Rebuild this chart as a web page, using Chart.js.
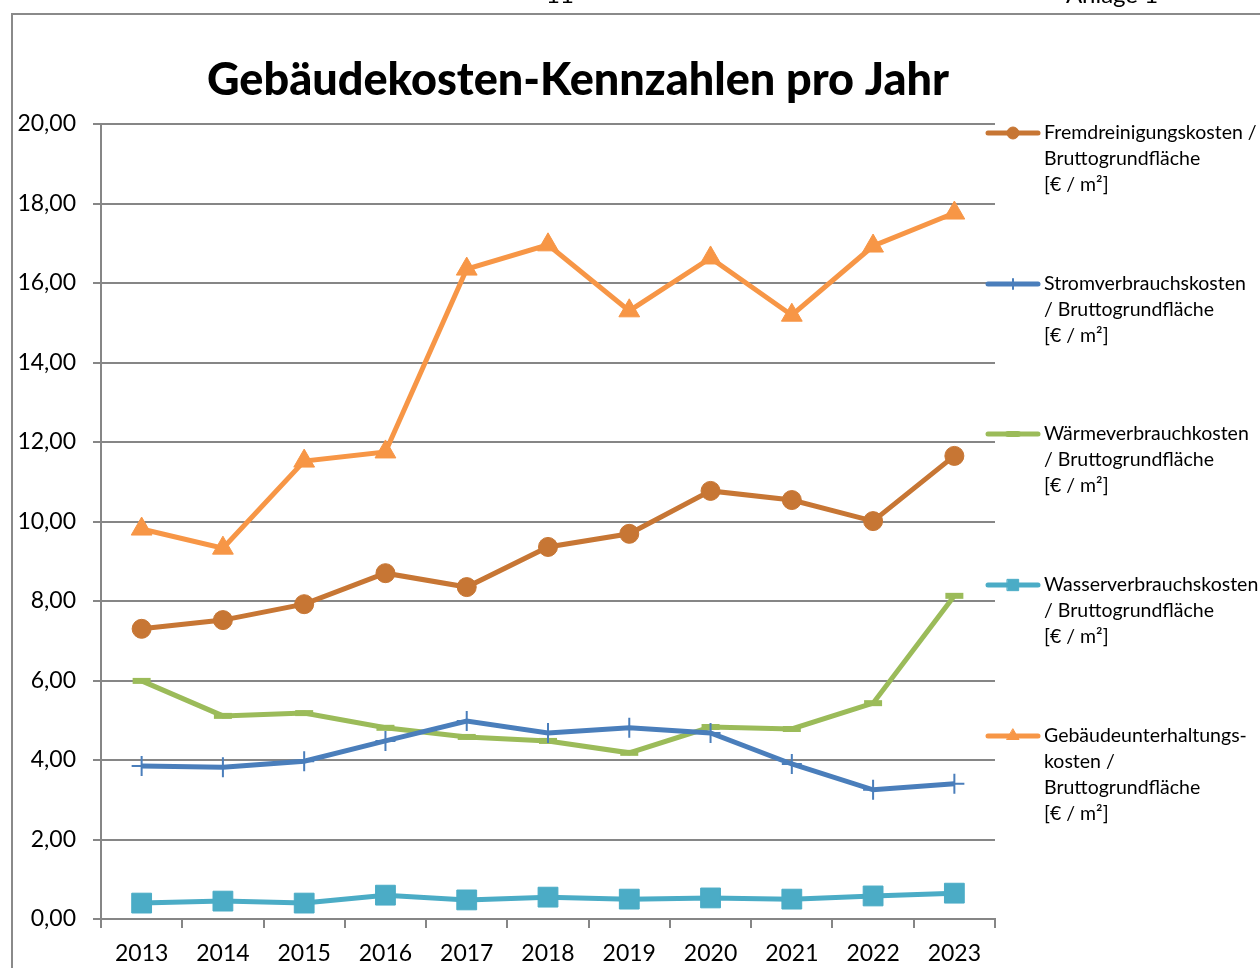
<!DOCTYPE html>
<html lang="de">
<head>
  <meta charset="UTF-8" />
  <title>Gebäudekosten-Kennzahlen pro Jahr</title>
  <script src="https://cdn.jsdelivr.net/npm/chart.js"></script>
  <style>
    html, body { margin: 0; padding: 0; background: #fff; }
    #wrap { width: 1260px; height: 968px; }
  </style>
</head>
<body>
  <div id="wrap"><canvas id="kennzahlen" width="1260" height="968"></canvas></div>

  <script>
    // Jahre und Kennzahlen in € / m² Bruttogrundfläche
    const years = ['2013', '2014', '2015', '2016', '2017', '2018', '2019', '2020', '2021', '2022', '2023'];

    const fremdreinigung = [7.30, 7.52, 7.92, 8.70, 8.35, 9.36, 9.69, 10.77, 10.54, 10.01, 11.65];
    const strom          = [3.85, 3.82, 3.97, 4.48, 4.98, 4.68, 4.81, 4.68, 3.90, 3.25, 3.40];
    const waerme         = [5.99, 5.11, 5.18, 4.81, 4.58, 4.48, 4.18, 4.83, 4.78, 5.43, 8.13];
    const wasser         = [0.40, 0.45, 0.40, 0.60, 0.48, 0.55, 0.50, 0.53, 0.50, 0.58, 0.65];
    const unterhaltung   = [9.81, 9.33, 11.52, 11.75, 16.35, 16.96, 15.30, 16.63, 15.19, 16.93, 17.76];

    const legendLines = [
      ['Fremdreinigungskosten /', 'Bruttogrundfläche', '[€ / m²]'],
      ['Stromverbrauchskosten', '/ Bruttogrundfläche', '[€ / m²]'],
      ['Wärmeverbrauchkosten', '/ Bruttogrundfläche', '[€ / m²]'],
      ['Wasserverbrauchskosten', '/ Bruttogrundfläche', '[€ / m²]'],
      ['Gebäudeunterhaltungs-', 'kosten /', 'Bruttogrundfläche', '[€ / m²]']
    ];

    const FONT = 'Lato, "Open Sans", sans-serif';
    const GRID = '#868686';

    // Rahmen, Seitenkopf und Titel
    const framePlugin = {
      id: 'frame',
      beforeDraw(chart) {
        const ctx = chart.ctx;
        ctx.save();
        ctx.fillStyle = '#fff';
        ctx.fillRect(0, 0, chart.width, chart.height);
        ctx.strokeStyle = '#8a8a8a';
        ctx.lineWidth = 2;
        ctx.beginPath();
        ctx.moveTo(12, chart.height);
        ctx.lineTo(12, 14);
        ctx.lineTo(chart.width, 14);
        ctx.stroke();

        ctx.fillStyle = '#000';
        ctx.font = '24px ' + FONT;
        ctx.textAlign = 'center';
        ctx.textBaseline = 'alphabetic';
        ctx.fillText('11', 560, 3);
        ctx.fillText('Anlage 1', 1112, 3);

        ctx.font = '900 45px ' + FONT;
        ctx.textBaseline = 'middle';
        ctx.fillText('Gebäudekosten-Kennzahlen pro Jahr', 578, 80);
        ctx.restore();
      }
    };

    // Legende rechts neben der Zeichenfläche, mehrzeilig
    const legendRows = [133, 284, 434, 585, 736];
    const sideLegend = {
      id: 'sideLegend',
      afterDraw(chart) {
        const ctx = chart.ctx;
        chart.data.datasets.forEach((ds, i) => {
          const y = legendRows[i];
          ctx.save();
          ctx.strokeStyle = ds.borderColor;
          ctx.fillStyle = ds.borderColor;
          ctx.lineWidth = 5;
          ctx.lineCap = 'round';
          ctx.beginPath();
          ctx.moveTo(988, y);
          ctx.lineTo(1038, y);
          ctx.stroke();
          ctx.lineWidth = ds.pointBorderWidth;
          Chart.helpers.drawPoint(ctx, {
            pointStyle: ds.pointStyle,
            radius: ds.legendRadius,
            borderWidth: ds.pointBorderWidth,
            rotation: 0
          }, 1013, y);

          ctx.fillStyle = '#000';
          ctx.font = '19.5px ' + FONT;
          ctx.textAlign = 'left';
          ctx.textBaseline = 'middle';
          legendLines[i].forEach((txt, k) => ctx.fillText(txt, 1044, y + k * 26));
          ctx.restore();
        });
      }
    };

    function series(label, data, color, style, radius, bw, legendRadius) {
      return {
        label, data,
        borderColor: color,
        backgroundColor: color,
        pointBackgroundColor: color,
        pointBorderColor: color,
        borderWidth: 5,
        pointStyle: style,
        pointRadius: radius,
        pointBorderWidth: bw,
        legendRadius,
        tension: 0
      };
    }

    new Chart(document.getElementById('kennzahlen'), {
      type: 'line',
      data: {
        labels: years,
        datasets: [
          series('Fremdreinigungskosten / Bruttogrundfläche [€ / m²]', fremdreinigung, '#C77634', 'circle', 9.5, 1, 6),
          series('Stromverbrauchskosten / Bruttogrundfläche [€ / m²]', strom, '#4A7EBB', 'cross', 10, 2, 5),
          series('Wärmeverbrauchkosten / Bruttogrundfläche [€ / m²]', waerme, '#9BBB59', 'line', 9, 6, 5),
          series('Wasserverbrauchskosten / Bruttogrundfläche [€ / m²]', wasser, '#4BACC6', 'rect', 14, 1, 8),
          series('Gebäudeunterhaltungskosten / Bruttogrundfläche [€ / m²]', unterhaltung, '#F79646', 'triangle', 12, 1, 7)
        ]
      },
      options: {
        responsive: false,
        animation: false,
        layout: { padding: { left: 0, top: 124, right: 265, bottom: 0 } },
        plugins: {
          legend: { display: false },
          tooltip: { enabled: false },
          title: { display: false }
        },
        scales: {
          x: {
            offset: true,
            afterFit: s => { s.height = 49; },
            grid: {
              offset: true,
              drawOnChartArea: false,
              drawTicks: true,
              tickLength: 9,
              color: GRID,
              lineWidth: 2
            },
            border: { color: GRID, width: 2 },
            ticks: {
              color: '#000',
              padding: 12,
              font: { family: FONT, size: 23 },
              maxRotation: 0
            }
          },
          y: {
            min: 0,
            max: 20,
            afterFit: s => { s.width = 101; },
            grid: { color: GRID, lineWidth: 2, tickLength: 8 },
            border: { color: GRID, width: 2 },
            ticks: {
              stepSize: 2,
              color: '#000',
              padding: 17,
              font: { family: FONT, size: 23 },
              callback: v => v.toFixed(2).replace('.', ',')
            }
          }
        }
      },
      plugins: [framePlugin, sideLegend]
    });
  </script>
</body>
</html>
